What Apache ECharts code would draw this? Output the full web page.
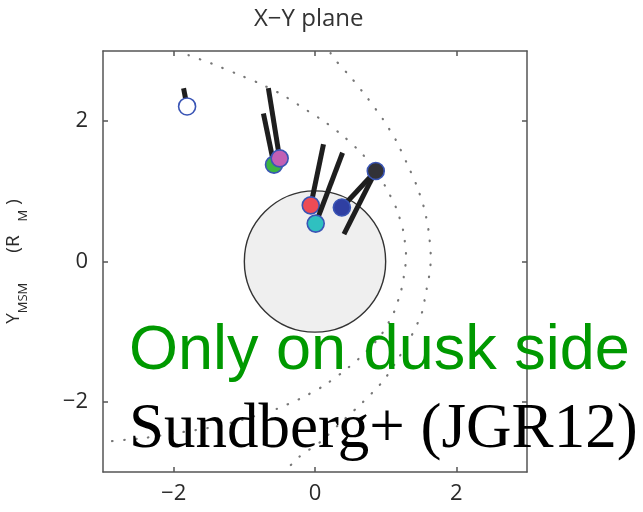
<!DOCTYPE html>
<html>
<head>
<meta charset="utf-8">
<style>
  html, body { margin: 0; padding: 0; background: #fff; }
  #chart { width: 643px; height: 512px; }
</style>
<script src="https://cdn.jsdelivr.net/npm/echarts@6/dist/echarts.min.js"></script>
</head>
<body>
<div id="chart"></div>
<script>
// Tick positions on both axes (R_M)
const xTicks = [-2, 0, 2];
const yTicks = [-2, 0, 2];

// Planet body: centre x, centre y, radius (R_M)
const planet = [[0, 0, 1]];

// Inner dotted boundary (magnetopause), traced from dusk-tail round the nose to dawn-tail
const innerBoundary = [
  [-1.79, 2.94], [-1.46, 2.82], [-1.12, 2.68], [-0.79, 2.54], [-0.47, 2.38],
  [-0.17, 2.19], [0.14, 1.99], [0.42, 1.77], [0.68, 1.52], [0.86, 1.28],
  [0.99, 1.08], [1.15, 0.76], [1.25, 0.43], [1.29, 0.06], [1.27, -0.13],
  [1.22, -0.41], [1.11, -0.74], [0.92, -1.07], [0.67, -1.34], [0.40, -1.57],
  [0.11, -1.78], [-0.20, -1.95], [-0.54, -2.10], [-1.04, -2.26], [-1.50, -2.37],
  [-1.93, -2.44], [-2.45, -2.52], [-3.00, -2.57]
];

// Outer dotted boundary (bow shock)
const outerBoundary = [
  [0.22, 2.97], [0.28, 2.88], [0.52, 2.61], [0.75, 2.32], [0.96, 2.03],
  [1.15, 1.72], [1.30, 1.40], [1.44, 1.08], [1.55, 0.74], [1.61, 0.42],
  [1.64, 0.04], [1.62, -0.18], [1.58, -0.39], [1.51, -0.74], [1.36, -1.07],
  [1.18, -1.38], [0.99, -1.67], [0.87, -1.81], [0.61, -2.07], [0.35, -2.31],
  [0.09, -2.56], [-0.22, -2.78], [-0.36, -2.92], [-0.42, -3.00]
];

// Event locations (x, y) and the far end of each direction stick (x2, y2)
const eventX  = [-1.81, -0.58, -0.50, -0.06, 0.01, 0.38, 0.86];
const eventY  = [ 2.21,  1.38,  1.47,  0.80, 0.54, 0.77, 1.29];
const stickX2 = [-1.86, -0.73, -0.66,  0.12, 0.39, 0.86, 0.41];
const stickY2 = [ 2.47,  2.11,  2.47,  1.67, 1.55, 1.29, 0.39];
const eventFill = ['#ffffff', '#3cb543', '#c25fb4', '#ee4b55', '#2fc0c0', '#2f3fa2', '#323238'];

const events = eventX.map((x, i) => [x, eventY[i], stickX2[i], stickY2[i], i]);

const minus = v => (v < 0 ? '\u2212' + Math.abs(v) : String(v));
const tickFont = { fontFamily: 'Open Sans', fontSize: 22, color: '#2a2a2a' };

const chart = echarts.init(document.getElementById('chart'), null, { renderer: 'canvas' });

const axisLineStyle = { onZero: false, lineStyle: { color: '#555', width: 1.5 } };
const inTick = (vals) => ({ show: true, inside: true, length: 5, customValues: vals, lineStyle: { color: '#555', width: 1.5 } });

chart.setOption({
  backgroundColor: '#fff',
  animation: false,
  title: {
    text: 'X\u2212Y plane',
    left: 249, top: 2,
    textStyle: { fontFamily: 'Open Sans', fontSize: 24, fontWeight: 'normal', color: '#333' }
  },
  grid: { left: 103, right: 116, top: 51, bottom: 40, outerBoundsMode: 'none', containLabel: false },
  xAxis: [
    {
      type: 'value', min: -3, max: 3, position: 'bottom',
      axisLine: axisLineStyle, axisTick: inTick(xTicks),
      axisLabel: Object.assign({ customValues: xTicks, formatter: minus, margin: 11 }, tickFont),
      splitLine: { show: false }
    },
    {
      type: 'value', min: -3, max: 3, position: 'top',
      axisLine: axisLineStyle, axisTick: inTick(xTicks),
      axisLabel: { show: false }, splitLine: { show: false }
    }
  ],
  yAxis: [
    {
      type: 'value', min: -3, max: 3, position: 'left',
      axisLine: axisLineStyle, axisTick: inTick(yTicks),
      axisLabel: Object.assign({ customValues: yTicks, formatter: minus, margin: 15 }, tickFont),
      splitLine: { show: false },
      name: '{b|Y}{s|MSM}{g|}{b|(R}{h|}{s|M}{b| )}',
      nameLocation: 'middle', nameRotate: 90, nameGap: 72,
      nameTextStyle: {
        rich: {
          b: { fontFamily: 'Open Sans', fontSize: 19, color: '#2a2a2a', padding: [0, 0, 8, 0] },
          s: { fontFamily: 'Open Sans', fontSize: 13, color: '#2a2a2a', padding: [12, 0, 0, 0] },
          g: { width: 30 },
          h: { width: 14 }
        }
      }
    },
    {
      type: 'value', min: -3, max: 3, position: 'right',
      axisLine: axisLineStyle, axisTick: inTick(yTicks),
      axisLabel: { show: false }, splitLine: { show: false }
    }
  ],
  series: [
    {
      type: 'custom', name: 'planet', data: planet, z: 1,
      renderItem: (params, api) => {
        const c = api.coord([api.value(0), api.value(1)]);
        const r = api.size([api.value(2), 0])[0];
        return {
          type: 'circle',
          shape: { cx: c[0], cy: c[1], r: r },
          style: { fill: '#efefef', stroke: '#333', lineWidth: 1.4 }
        };
      }
    },
    {
      type: 'line', name: 'magnetopause', data: innerBoundary, z: 2,
      showSymbol: false, symbol: 'none', smooth: 0.2,
      lineStyle: { color: '#777', width: 2.2, type: [0.5, 11.5], cap: 'round' }
    },
    {
      type: 'line', name: 'bow shock', data: outerBoundary, z: 2,
      showSymbol: false, symbol: 'none', smooth: 0.2,
      lineStyle: { color: '#777', width: 2.2, type: [0.5, 11.5], cap: 'round' }
    },
    {
      type: 'custom', name: 'events', data: events, z: 3,
      renderItem: (params, api) => {
        const p = api.coord([api.value(0), api.value(1)]);
        const q = api.coord([api.value(2), api.value(3)]);
        const i = api.value(4);
        return {
          type: 'group',
          children: [
            {
              type: 'line',
              shape: { x1: p[0], y1: p[1], x2: q[0], y2: q[1] },
              style: { stroke: '#1e1e1e', lineWidth: 5 }
            },
            {
              type: 'circle',
              shape: { cx: p[0], cy: p[1], r: 8.5 },
              style: { fill: eventFill[i], stroke: '#3a55b5', lineWidth: 1.6 }
            }
          ]
        };
      }
    }
  ],
  graphic: [
    {
      type: 'text', z: 100,
      style: {
        x: 129, y: 352, text: 'Only on dusk side',
        font: '63px "Liberation Sans", Arial, sans-serif',
        fill: '#009900', verticalAlign: 'middle'
      }
    },
    {
      type: 'text', z: 100,
      style: {
        x: 129, y: 430, text: 'Sundberg+ (JGR12)',
        font: '63px "Liberation Serif", "Times New Roman", serif',
        fill: '#000', verticalAlign: 'middle'
      }
    }
  ]
});
</script>
</body>
</html>
